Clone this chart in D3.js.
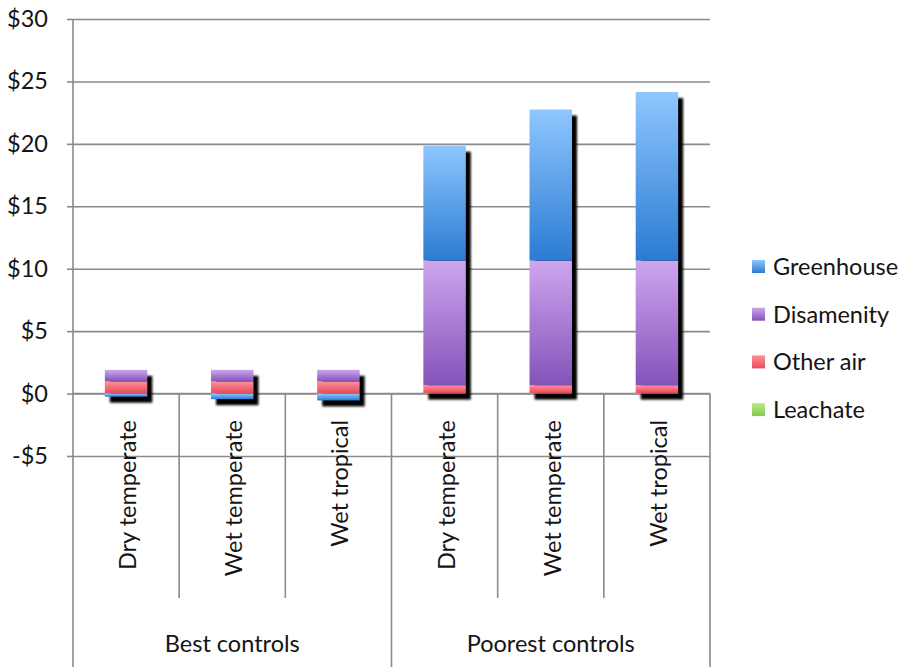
<!DOCTYPE html>
<html>
<head>
<meta charset="utf-8">
<script src="https://cdn.jsdelivr.net/npm/d3@7"></script>
<style>
  html, body { margin: 0; padding: 0; background: #fff; }
  svg { display: block; font-family: Lato, "Open Sans", sans-serif; }
</style>
</head>
<body>
<svg id="chart" width="920" height="667"></svg>
<script>
// Cost per tonne by landfill climate and control level
const groups = ["Best controls", "Poorest controls"];
const climates = ["Dry temperate", "Wet temperate", "Wet tropical"];
const seriesNames = ["Leachate", "Other air", "Disamenity", "Greenhouse"];
const leachate   = [0.03, 0.03, 0.03, 0.05, 0.05, 0.05];
const otherAir   = [0.95, 0.95, 0.95, 0.62, 0.62, 0.62];
const disamenity = [0.92, 0.92, 0.92, 9.98, 9.98, 9.98];
const greenhouse = [-0.25, -0.45, -0.55, 9.2, 12.1, 13.5];
const yTicks = [-5, 0, 5, 10, 15, 20, 25, 30];
const legendOrder = ["Greenhouse", "Disamenity", "Other air", "Leachate"];

const colors = {
  "Greenhouse": ["#8fc6ff", "#2a7bd2"],
  "Disamenity": ["#cda6ee", "#8553b9"],
  "Other air":  ["#ff909a", "#e64c5c"],
  "Leachate":   ["#b6ec86", "#86c94f"]
};

const fontSize = 23.5;
const textColor = "#141414";

const rows = [];
groups.forEach((g, gi) => climates.forEach((c, ci) => {
  const i = gi * climates.length + ci;
  rows.push({
    key: g + "|" + c, group: g, climate: c,
    "Leachate": leachate[i], "Other air": otherAir[i],
    "Disamenity": disamenity[i], "Greenhouse": greenhouse[i]
  });
}));

const svg = d3.select("#chart");
const plotLeft = 73, plotRight = 710, plotTop = 19;
const catBottom = 598, groupBottom = 667;
const gridColor = "#8a8a8a";

const y = d3.scaleLinear().domain([-5, 30]).range([456, plotTop]);
const x = d3.scaleBand().domain(rows.map(d => d.key)).range([plotLeft, plotRight]);
const barW = x.bandwidth() * 0.4;

const defs = svg.append("defs");
Object.entries(colors).forEach(([name, [c0, c1]]) => {
  const g = defs.append("linearGradient")
    .attr("id", "grad-" + name.replace(/\s/g, ""))
    .attr("x1", 0).attr("y1", 0).attr("x2", 0).attr("y2", 1);
  g.append("stop").attr("offset", "0%").attr("stop-color", c0);
  g.append("stop").attr("offset", "100%").attr("stop-color", c1);
});
const blur = defs.append("filter").attr("id", "soft")
  .attr("x", "-20%").attr("y", "-20%").attr("width", "140%").attr("height", "140%");
blur.append("feGaussianBlur").attr("stdDeviation", 0.8);

// Gridlines and y axis
const yAxis = d3.axisLeft(y).tickValues(yTicks).tickSize(6)
  .tickFormat(d => (d < 0 ? "-$" + Math.abs(d) : "$" + d));
const yg = svg.append("g").attr("transform", `translate(${plotLeft},0)`).call(yAxis);
yg.select(".domain").remove();
yg.selectAll(".tick line").attr("stroke", gridColor).attr("stroke-width", 1.6);
yg.selectAll(".tick text").attr("font-size", fontSize).attr("fill", textColor).attr("x", -25)
  .attr("font-family", "Lato, sans-serif");
yg.selectAll(".tick").append("line")
  .attr("x1", 0).attr("x2", plotRight - plotLeft)
  .attr("stroke", gridColor).attr("stroke-width", 1.6);

// Axis frame lines
svg.append("line").attr("x1", plotLeft).attr("x2", plotLeft).attr("y1", plotTop).attr("y2", groupBottom)
  .attr("stroke", gridColor).attr("stroke-width", 1.6);
svg.append("line").attr("x1", plotLeft).attr("x2", plotRight).attr("y1", y(0)).attr("y2", y(0))
  .attr("stroke", gridColor).attr("stroke-width", 1.6);

// Category dividers
rows.forEach((d, i) => {
  if (i === 0) return;
  const xx = x(d.key);
  const isGroupEdge = i % climates.length === 0;
  svg.append("line").attr("x1", xx).attr("x2", xx)
    .attr("y1", y(0)).attr("y2", isGroupEdge ? groupBottom : catBottom)
    .attr("stroke", gridColor).attr("stroke-width", 1.6);
});
svg.append("line").attr("x1", plotRight).attr("x2", plotRight).attr("y1", y(0)).attr("y2", groupBottom)
  .attr("stroke", gridColor).attr("stroke-width", 1.6);

// Stacked bars
const stack = d3.stack().keys(seriesNames).offset(d3.stackOffsetDiverging);
const stacked = stack(rows);

const extents = rows.map((d, i) => {
  let lo = 0, hi = 0;
  stacked.forEach(s => { lo = Math.min(lo, s[i][0], s[i][1]); hi = Math.max(hi, s[i][0], s[i][1]); });
  return { key: d.key, lo, hi };
});

svg.append("g").attr("filter", "url(#soft)")
  .selectAll("rect").data(extents).join("rect")
  .attr("x", d => x(d.key) + (x.bandwidth() - barW) / 2 + 5)
  .attr("y", d => y(d.hi) + 6)
  .attr("width", barW)
  .attr("height", d => y(d.lo) - y(d.hi))
  .attr("fill", "#000");

svg.append("g").selectAll("g").data(stacked).join("g")
  .attr("fill", s => `url(#grad-${s.key.replace(/\s/g, "")})`)
  .selectAll("rect").data(s => s.map((v, i) => ({ v, key: rows[i].key }))).join("rect")
  .attr("x", d => x(d.key) + (x.bandwidth() - barW) / 2)
  .attr("y", d => y(Math.max(d.v[0], d.v[1])))
  .attr("width", barW)
  .attr("height", d => Math.abs(y(d.v[0]) - y(d.v[1])));

// Category labels (rotated)
svg.append("g").selectAll("text").data(rows).join("text")
  .attr("transform", d => `translate(${x(d.key) + x.bandwidth() / 2 + 10},420) rotate(-90)`)
  .attr("text-anchor", "end")
  .attr("font-size", fontSize)
  .attr("fill", textColor)
  .text(d => d.climate);

// Group labels
const groupX = d3.scaleBand().domain(groups).range([plotLeft, plotRight]);
svg.append("g").selectAll("text").data(groups).join("text")
  .attr("x", d => groupX(d) + groupX.bandwidth() / 2)
  .attr("y", 652)
  .attr("text-anchor", "middle")
  .attr("font-size", fontSize)
  .attr("fill", textColor)
  .text(d => d);

// Legend
const lg = svg.append("g").selectAll("g").data(legendOrder).join("g")
  .attr("transform", (d, i) => `translate(752,${260 + i * 47.7})`);
lg.append("rect").attr("width", 13).attr("height", 13)
  .attr("fill", d => `url(#grad-${d.replace(/\s/g, "")})`);
lg.append("text").attr("x", 21).attr("y", 15)
  .attr("font-size", fontSize).attr("fill", textColor)
  .text(d => d);
</script>
</body>
</html>
